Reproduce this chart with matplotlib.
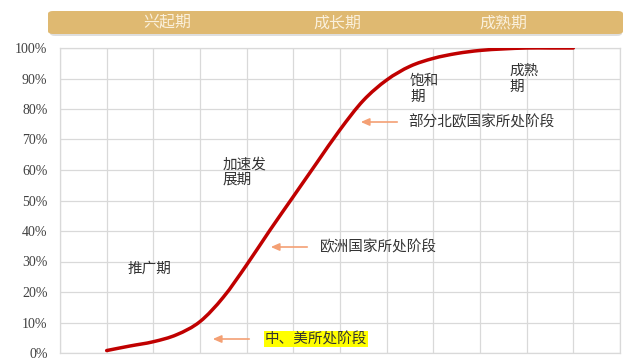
import matplotlib
matplotlib.use("Agg")
import matplotlib.pyplot as plt
from matplotlib.patches import FancyBboxPatch, PathPatch
from matplotlib.path import Path
from matplotlib.font_manager import FontProperties
import numpy as np

plt.rcParams['font.family'] = ['Noto Sans CJK SC', 'DejaVu Sans']

# ---- data (x in grid-column units, y in %) ----
curve_x = [1, 1.5, 2, 2.5, 3, 3.5, 4, 4.5, 5, 5.5, 6, 6.5, 7, 7.5, 8, 8.5, 9, 9.5, 10, 10.5, 11]
curve_y = [0.8, 2.3, 3.7, 6.0, 10.3, 18.3, 28.9, 40.3, 51.3, 62.3, 73.2, 82.8, 89.5, 94.0, 96.6, 98.2, 99.2, 99.7, 100, 100, 100]

y_ticks = [0, 10, 20, 30, 40, 50, 60, 70, 80, 90, 100]
y_tick_labels = [f"{v}%" for v in y_ticks]
banner_labels = ["兴起期", "成长期", "成熟期"]
phase_labels = ["推广期", "加速发\n展期", "饱和\n期", "成熟\n期"]
stage_labels = ["中、美所处阶段", "欧洲国家所处阶段", "部分北欧国家所处阶段"]

W, H = 625, 358
fig = plt.figure(figsize=(W / 100, H / 100), dpi=100)
ax = fig.add_axes([60 / W, 5 / H, 560 / W, 305 / H])

# smooth line through the read points (Catmull-Rom as cubic Bezier path)
P = np.column_stack([curve_x, curve_y]).astype(float)
ext = np.vstack([P[0] - (P[1] - P[0]), P, P[-1] + (P[-1] - P[-2])])
verts = [tuple(P[0])]
codes = [Path.MOVETO]
for i in range(1, len(ext) - 2):
    p0, p1, p2, p3 = ext[i - 1], ext[i], ext[i + 1], ext[i + 2]
    c1 = p1 + (p2 - p0) / 6.0
    c2 = p2 - (p3 - p1) / 6.0
    verts += [tuple(c1), tuple(c2), tuple(p2)]
    codes += [Path.CURVE4] * 3
ax.add_patch(PathPatch(Path(verts, codes), facecolor="none", edgecolor="#C00000",
                       lw=2.5, capstyle="round", zorder=3))

ax.set_xlim(0, 12)
ax.set_ylim(0, 100)
ax.set_xticks(range(13))
ax.set_yticks(y_ticks)
serif = FontProperties(family="Liberation Serif", size=10)
ax.set_yticklabels(y_tick_labels, fontproperties=serif, color="#404040")
ax.tick_params(axis="x", length=0, labelbottom=False)
ax.tick_params(axis="y", length=0, pad=9)
ax.grid(True, color="#D9D9D9", lw=0.9)
for s in ax.spines.values():
    s.set_color("#D9D9D9")
    s.set_linewidth(0.9)
ax.set_axisbelow(True)

# banner
fig.patches.append(FancyBboxPatch((50 / W, (H - 36) / H), 572 / W, 23 / H,
                                  boxstyle="round,pad=0,rounding_size=0.008",
                                  transform=fig.transFigure, facecolor="#BFBFBF",
                                  edgecolor="none", alpha=0.5, zorder=0))
fig.patches.append(FancyBboxPatch((48 / W, (H - 34) / H), 575 / W, 23 / H,
                                  boxstyle="round,pad=0,rounding_size=0.008",
                                  transform=fig.transFigure, facecolor="#DFB971",
                                  edgecolor="none", zorder=1))
for lbl, xp in zip(banner_labels, [167, 337, 503]):
    fig.text(xp / W, 1 - 23 / H, lbl, ha="center", va="center", color="#FAF0DC", fontsize=11.5)

# phase labels (axes data coords)
def px_to_data(px, py):
    return (px - 60) / 560 * 12, (353 - py) / 305 * 100

txt_kw = dict(fontsize=10.5, color="#333333", linespacing=1.15)
x, y = px_to_data(128, 269)
ax.text(x, y, phase_labels[0], ha="left", va="center", **txt_kw)
x, y = px_to_data(223, 172)
ax.text(x, y, phase_labels[1], ha="left", va="center", **txt_kw)
x, y = px_to_data(410, 89)
ax.text(x, y, phase_labels[2], ha="left", va="center", **txt_kw)
x, y = px_to_data(509, 79)
ax.text(x, y, phase_labels[3], ha="left", va="center", **txt_kw)

arrow_kw = dict(arrowstyle="-|>,head_length=0.5,head_width=0.22", color="#F4A074", lw=1.2)
# stage labels with arrows
specs = [
    (stage_labels[0], 265, 339, 252, 210, True),
    (stage_labels[1], 320, 247, 310, 268, False),
    (stage_labels[2], 408, 122, 400, 358, False),
]
for lbl, tx, ty, ax0, ax1, hl in specs:
    x, y = px_to_data(tx, ty)
    kw = dict(fontsize=10.5, color="#333333", ha="left", va="center")
    if hl:
        kw["bbox"] = dict(boxstyle="square,pad=0.05", facecolor="#FFFF00", edgecolor="none")
    ax.text(x, y, lbl, **kw)
    xa, ya = px_to_data(ax0, ty)
    xb, _ = px_to_data(ax1, ty)
    ax.annotate("", xy=(xb, ya), xytext=(xa, ya), arrowprops=arrow_kw)

fig.savefig("out.png", dpi=100, facecolor="white")
